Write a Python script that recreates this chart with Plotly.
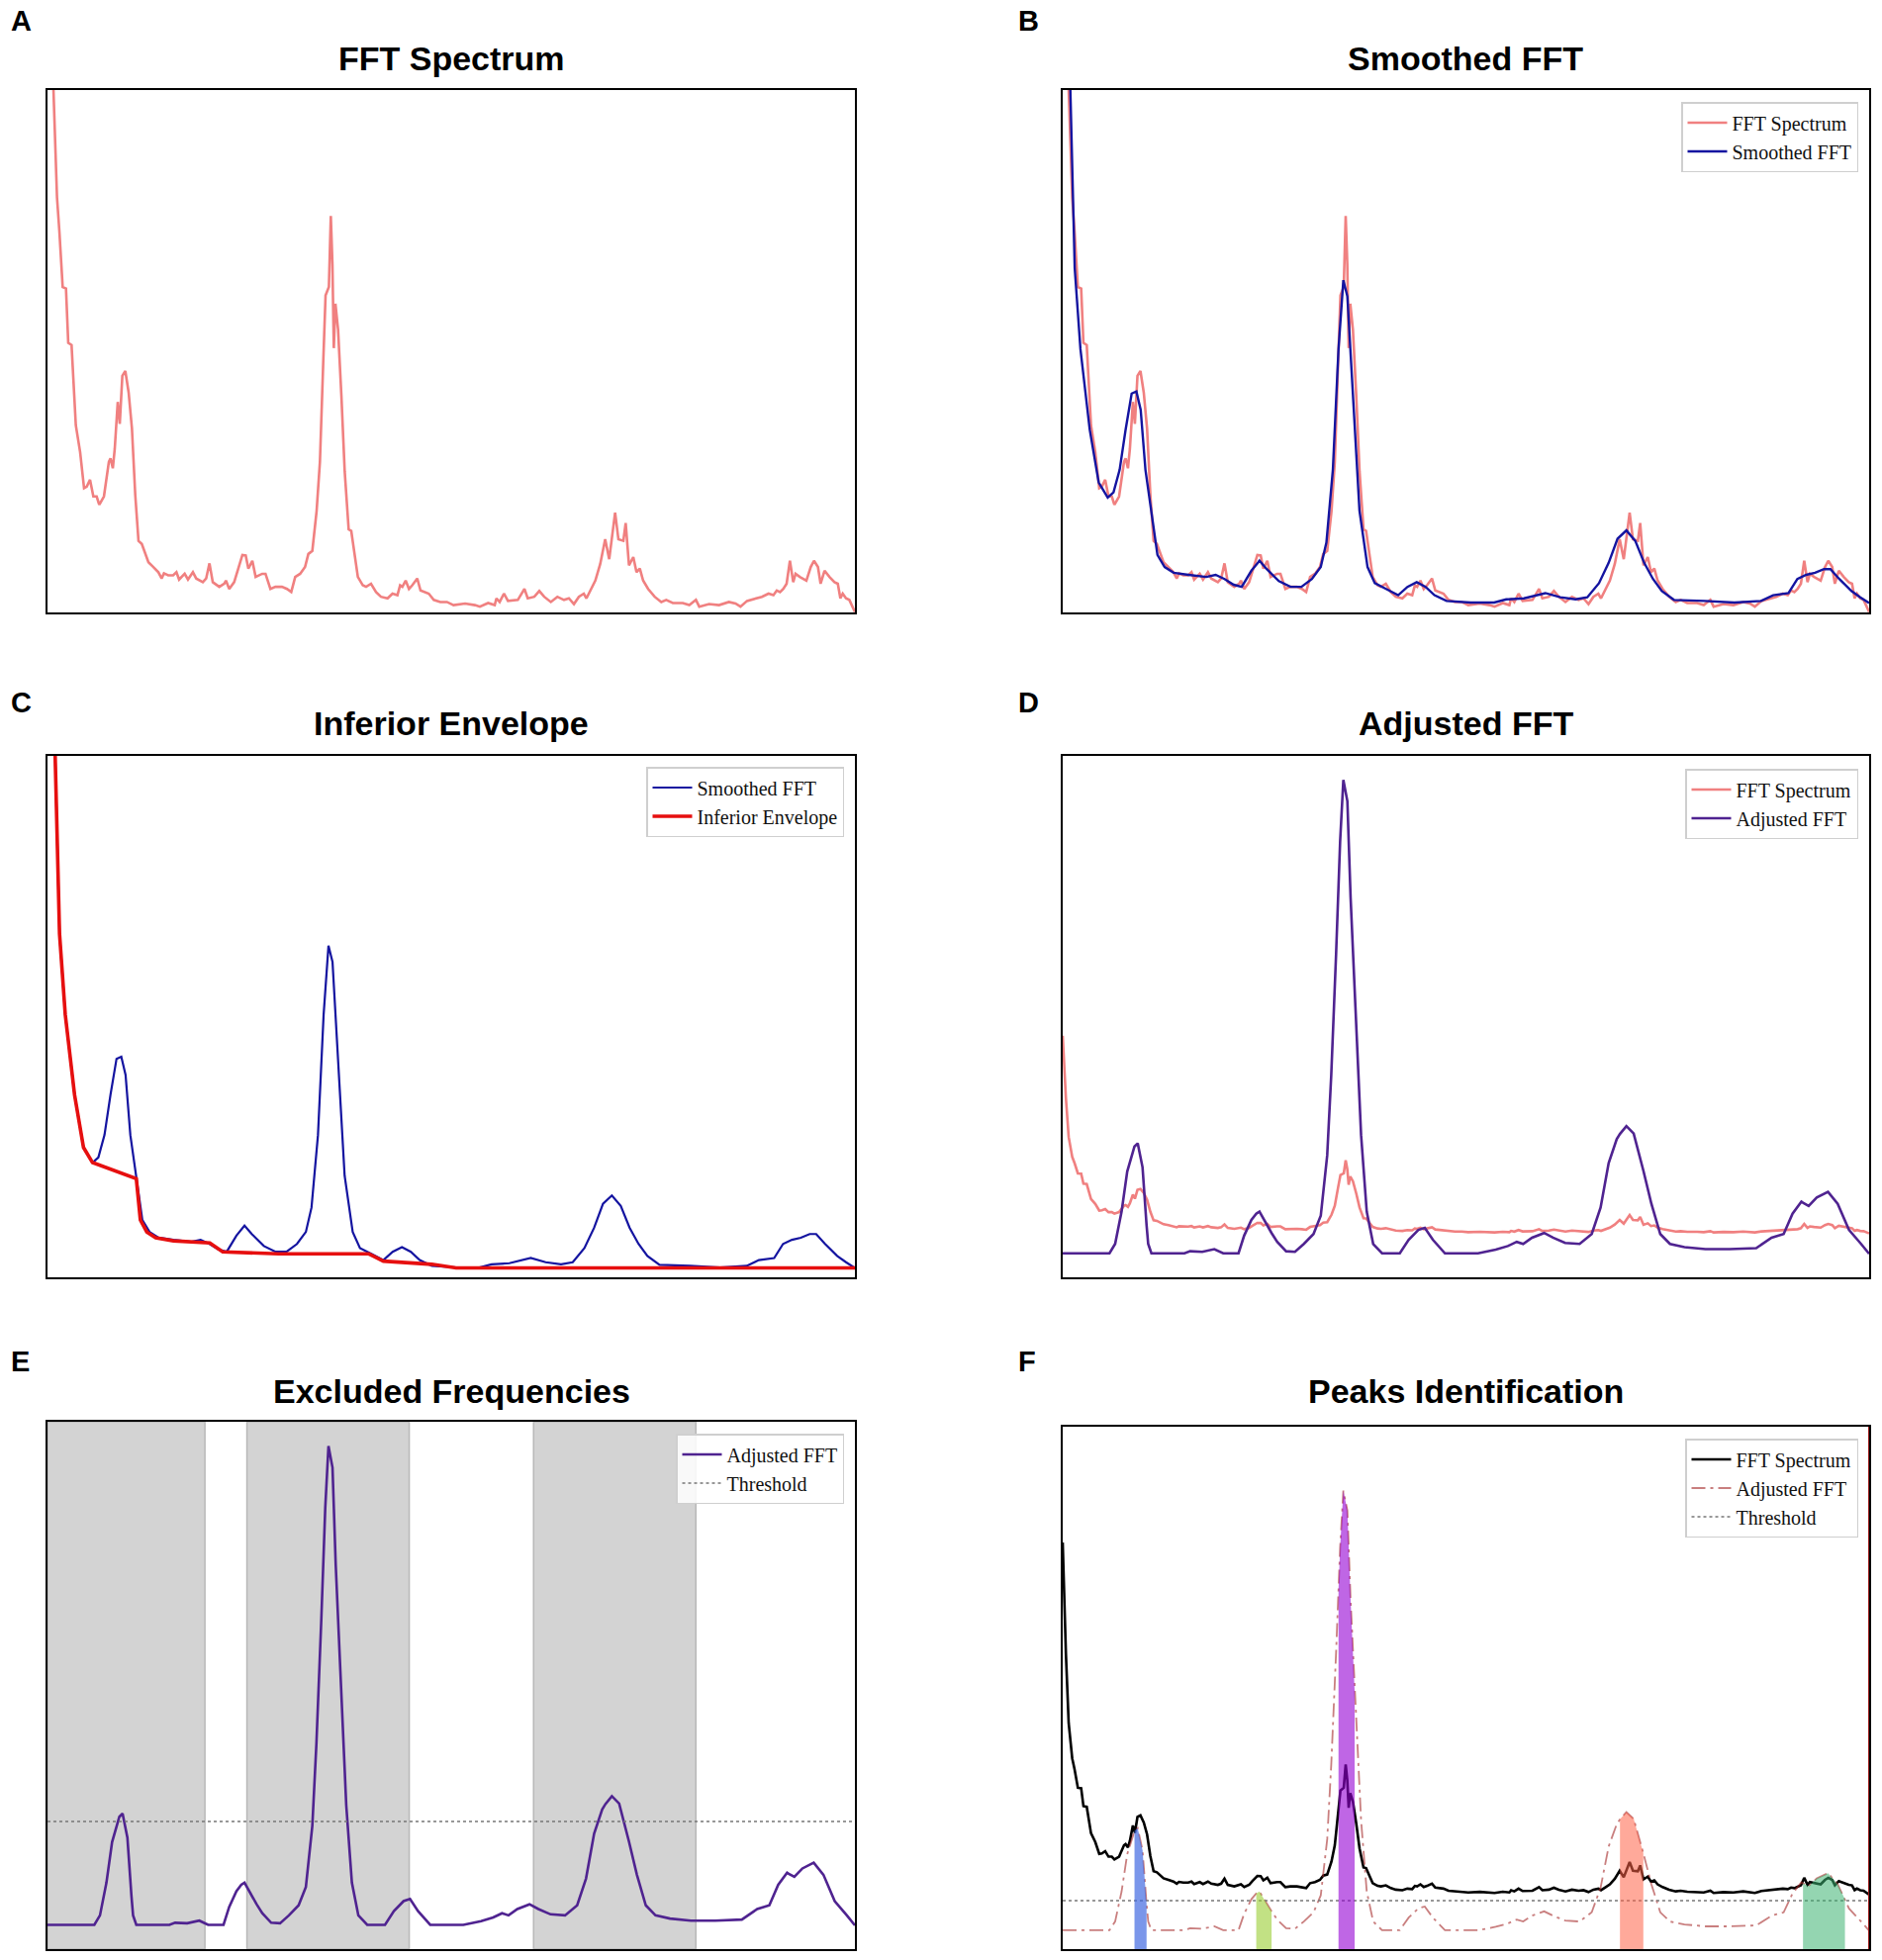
import plotly.graph_objects as go

# ---- data (x = frequency axis, 0..100 across the panel) ----
fft_x = [0, 0.4, 0.74, 1.18, 1.47, 1.88, 2.29, 2.57, 2.98, 3.51, 4.04, 4.53, 4.86, 5.27, 5.68,
         6.09, 6.41, 6.99, 7.60, 7.80, 8.09, 8.33, 8.70, 8.95, 9.27, 9.64, 10.05, 10.46, 10.87,
         11.27, 11.68, 12.09, 12.50, 13.11, 13.73, 14.14, 14.42, 14.95, 15.56, 15.97, 16.30,
         16.99, 17.40, 18.01, 18.42, 19.24, 19.65, 20.06, 20.47, 21.28, 21.90, 22.10, 22.51,
         23.12, 23.53, 24.14, 24.55, 24.88, 25.37, 25.78, 26.59, 27.00, 27.61, 28.23, 29.04,
         29.66, 30.19, 30.68, 31.29, 31.90, 32.31, 32.80, 33.33, 33.74, 34.15, 34.44, 34.85,
         35.09, 35.29, 35.46, 35.66, 35.99, 36.40, 36.81, 37.30, 37.62, 38.03, 38.44, 39.05,
         39.46, 40.07, 40.69, 41.30, 42.12, 42.73, 43.34, 43.67, 43.95, 44.36, 44.77, 45.18,
         45.79, 46.20, 46.61, 47.22, 47.84, 48.65, 49.47, 50.29, 51.72, 52.94, 53.55, 54.57,
         55.39, 55.60, 56.00, 56.53, 57.03, 58.25, 59.07, 59.48, 60.29, 60.91, 61.52, 62.34,
         63.15, 63.97, 64.58, 65.20, 65.81, 66.42, 66.75, 67.24, 67.85, 68.46, 69.07, 69.57,
         69.89, 70.30, 70.71, 71.32, 71.61, 72.02, 72.55, 72.95, 73.36, 73.77, 74.39, 75.20,
         76.02, 76.63, 77.45, 78.68, 79.49, 80.31, 80.72, 81.94, 83.17, 84.39, 85.21, 85.83,
         86.64, 87.66, 88.48, 89.30, 89.91, 90.32, 90.73, 91.13, 91.54, 91.95, 92.36, 92.65,
         93.18, 93.99, 94.53, 94.93, 95.42, 95.75, 96.24, 96.85, 97.47, 97.88, 98.20, 98.49,
         98.90, 99.31, 99.71, 100.0]
fft_y = [2.05, 1.40, 1.00, 0.794, 0.730, 0.623, 0.620, 0.516, 0.512, 0.358, 0.307, 0.238, 0.241,
         0.254, 0.222, 0.222, 0.206, 0.222, 0.288, 0.295, 0.276, 0.313, 0.403, 0.361, 0.453,
         0.462, 0.421, 0.352, 0.225, 0.137, 0.131, 0.112, 0.096, 0.087, 0.077, 0.065, 0.075,
         0.071, 0.071, 0.077, 0.063, 0.074, 0.063, 0.077, 0.065, 0.058, 0.065, 0.094, 0.058,
         0.049, 0.055, 0.061, 0.045, 0.058, 0.080, 0.110, 0.109, 0.084, 0.099, 0.068, 0.074,
         0.074, 0.045, 0.049, 0.049, 0.045, 0.039, 0.068, 0.074, 0.087, 0.112, 0.118, 0.194,
         0.288, 0.478, 0.607, 0.623, 0.759, 0.667, 0.506, 0.591, 0.541, 0.415, 0.270, 0.159,
         0.156, 0.112, 0.068, 0.052, 0.049, 0.055, 0.039, 0.030, 0.027, 0.036, 0.033, 0.052,
         0.049, 0.061, 0.045, 0.052, 0.065, 0.042, 0.039, 0.036, 0.024, 0.020, 0.020, 0.014,
         0.017, 0.014, 0.011, 0.018, 0.014, 0.027, 0.020, 0.036, 0.022, 0.024, 0.045, 0.027,
         0.030, 0.041, 0.030, 0.020, 0.030, 0.024, 0.027, 0.016, 0.030, 0.036, 0.027, 0.042,
         0.061, 0.093, 0.140, 0.102, 0.140, 0.191, 0.140, 0.137, 0.171, 0.090, 0.106, 0.077,
         0.084, 0.061, 0.045, 0.030, 0.020, 0.024, 0.018, 0.018, 0.014, 0.024, 0.011, 0.016,
         0.014, 0.020, 0.017, 0.011, 0.022, 0.027, 0.030, 0.036, 0.033, 0.042, 0.039, 0.045,
         0.055, 0.099, 0.058, 0.074, 0.068, 0.061, 0.087, 0.099, 0.087, 0.055, 0.080, 0.068,
         0.058, 0.055, 0.027, 0.036, 0.027, 0.024, 0.011, 0.001]

smooth_x = [0, 0.9, 1.49, 2.2, 3.35, 4.46, 5.58, 6.3, 7.06, 7.8, 8.55, 9.14, 9.67, 10.26, 11.0,
            11.75, 12.64, 13.75, 15.6, 17.8, 18.96, 20.07, 21.2, 22.2, 23.4, 24.4, 25.3, 26.8,
            28.25, 29.6, 30.9, 32.0, 32.7, 33.5, 34.2, 34.8, 35.3, 36.1, 36.8, 37.8, 38.7, 40.1,
            41.6, 42.75, 43.9, 45.0, 46.1, 47.6, 50.6, 53.5, 55.0, 57.2, 59.85, 61.7, 63.6, 65.05,
            66.5, 67.7, 68.8, 69.9, 71.0, 72.1, 73.2, 74.3, 75.8, 79.6, 83.3, 86.6, 88.1, 90.0,
            91.1, 92.2, 93.3, 94.4, 95.2, 96.3, 97.8, 98.9, 100]
smooth_y = [1.6, 1.0, 0.659, 0.504, 0.35, 0.249, 0.22, 0.23, 0.273, 0.35, 0.419, 0.423, 0.388,
            0.273, 0.188, 0.11, 0.087, 0.076, 0.072, 0.068, 0.072, 0.064, 0.053, 0.049, 0.08,
            0.099, 0.083, 0.06, 0.049, 0.049, 0.064, 0.087, 0.134, 0.273, 0.504, 0.636, 0.605,
            0.388, 0.195, 0.087, 0.056, 0.045, 0.033, 0.049, 0.058, 0.049, 0.033, 0.022, 0.019,
            0.019, 0.025, 0.027, 0.037, 0.029, 0.025, 0.029, 0.056, 0.095, 0.141, 0.157, 0.137,
            0.095, 0.064, 0.041, 0.024, 0.022, 0.019, 0.022, 0.033, 0.037, 0.064, 0.072, 0.076,
            0.083, 0.083, 0.064, 0.041, 0.029, 0.018]

env_x = [0, 0.9, 1.49, 2.2, 3.35, 4.46, 5.58, 11.0, 11.5, 12.3, 13.4, 15.6, 20.1, 21.7, 28.6,
         39.8, 41.6, 47.6, 50.6, 100]
env_y = [1.6, 1.0, 0.659, 0.504, 0.35, 0.249, 0.22, 0.189, 0.11, 0.087, 0.076, 0.07, 0.066,
         0.049, 0.045, 0.045, 0.031, 0.025, 0.018, 0.018]

adj_x = [0, 5.8, 6.5, 7.3, 8.0, 8.9, 9.3, 9.9, 10.4, 10.6, 11.0, 15.1, 15.8, 17.3, 18.8, 19.9,
         21.8, 22.5, 23.4, 24.0, 24.4, 25.5, 25.9, 26.6, 27.7, 28.8, 29.9, 31.1, 32.0, 32.8,
         33.3, 33.9, 34.2, 34.4, 34.8, 35.3, 35.7, 36.2, 37.0, 37.7, 38.5, 39.6, 41.8, 42.9,
         44.1, 44.9, 45.9, 47.4, 51.5, 53.7, 55.2, 56.3, 57.1, 58.2, 59.7, 60.8, 62.3, 64.1,
         65.6, 66.7, 67.7, 68.7, 69.1, 69.9, 70.8, 72.0, 73.0, 74.1, 75.3, 77.1, 79.7, 82.7,
         86.0, 87.9, 89.4, 90.5, 91.6, 91.8, 92.5, 93.5, 94.9, 96.1, 97.0, 97.5, 99.0, 100]
adj_y = [0.046, 0.046, 0.064, 0.126, 0.203, 0.251, 0.257, 0.211, 0.100, 0.064, 0.046, 0.046,
         0.050, 0.049, 0.054, 0.046, 0.046, 0.080, 0.110, 0.122, 0.126, 0.095, 0.085, 0.068,
         0.050, 0.049, 0.064, 0.083, 0.118, 0.234, 0.388, 0.620, 0.750, 0.836, 0.954, 0.913,
         0.728, 0.540, 0.273, 0.126, 0.064, 0.046, 0.046, 0.072, 0.091, 0.095, 0.072, 0.046,
         0.046, 0.053, 0.060, 0.068, 0.064, 0.076, 0.085, 0.076, 0.066, 0.064, 0.083, 0.134,
         0.219, 0.265, 0.275, 0.290, 0.276, 0.205, 0.141, 0.083, 0.064, 0.058, 0.054, 0.054,
         0.056, 0.076, 0.083, 0.122, 0.145, 0.143, 0.137, 0.153, 0.164, 0.141, 0.110, 0.091,
         0.064, 0.045]

excluded_bands = [(0, 19.5), (24.7, 44.8), (60.2, 80.3)]
threshold_e = 0.242
threshold_f = 0.107
peak_bands = [(8.9, 10.4), (24.0, 25.9), (34.2, 36.2), (69.1, 72.0), (91.8, 97.0)]

# ---- styling ----
peak_colors = ["rgba(65,105,225,0.7)", "rgba(154,205,50,0.6)", "rgba(148,0,211,0.6)",
               "rgba(255,99,71,0.55)", "rgba(60,179,113,0.55)"]
C_FFT = "#F08080"
C_SMOOTH = "#1414a0"
C_ENV = "#e60f0f"
C_ADJ = "#4f2390"

W, H = 1902, 1981
cols = [(48, 864), (1074, 1889)]
rows = [(91, 619), (764, 1291), (1437, 1970), (1442, 1970)]


def xd(c):
    return [cols[c][0] / W, cols[c][1] / W]


def yd(r):
    return [1 - rows[r][1] / H, 1 - rows[r][0] / H]


def axis(dom, rng, anchor):
    return dict(domain=dom, range=rng, anchor=anchor, showticklabels=False, ticks="",
                showgrid=False, zeroline=False, showline=True, linecolor="black",
                linewidth=2, mirror=True, fixedrange=True)


xr = [fft_x[0], fft_x[-1]]
fig = go.Figure()

# A
fig.add_trace(go.Scatter(x=fft_x, y=fft_y, mode="lines", line=dict(color=C_FFT, width=2.6),
                         showlegend=False, xaxis="x", yaxis="y"))
# B
fig.add_trace(go.Scatter(x=fft_x, y=fft_y, mode="lines", name="FFT Spectrum",
                         line=dict(color=C_FFT, width=2.6), legend="legend", xaxis="x2", yaxis="y2"))
fig.add_trace(go.Scatter(x=smooth_x, y=smooth_y, mode="lines", name="Smoothed FFT",
                         line=dict(color=C_SMOOTH, width=2.4), legend="legend", xaxis="x2", yaxis="y2"))
# C
fig.add_trace(go.Scatter(x=smooth_x, y=smooth_y, mode="lines", name="Smoothed FFT",
                         line=dict(color=C_SMOOTH, width=2.2), legend="legend2", xaxis="x3", yaxis="y3"))
fig.add_trace(go.Scatter(x=env_x, y=env_y, mode="lines", name="Inferior Envelope",
                         line=dict(color=C_ENV, width=3.6), legend="legend2", xaxis="x3", yaxis="y3"))
# D
fig.add_trace(go.Scatter(x=fft_x, y=fft_y, mode="lines", name="FFT Spectrum",
                         line=dict(color=C_FFT, width=2.6), legend="legend3", xaxis="x4", yaxis="y4"))
fig.add_trace(go.Scatter(x=adj_x, y=adj_y, mode="lines", name="Adjusted FFT",
                         line=dict(color=C_ADJ, width=2.6), legend="legend3", xaxis="x4", yaxis="y7"))
# E
fig.add_trace(go.Scatter(x=adj_x, y=adj_y, mode="lines", name="Adjusted FFT",
                         line=dict(color=C_ADJ, width=2.6), legend="legend4", xaxis="x5", yaxis="y5"))
fig.add_trace(go.Scatter(x=xr, y=[threshold_e, threshold_e], mode="lines", name="Threshold",
                         line=dict(color="#777777", width=1.5, dash="dot"),
                         legend="legend4", xaxis="x5", yaxis="y5"))
# F
fig.add_trace(go.Scatter(x=fft_x, y=fft_y, mode="lines", name="FFT Spectrum",
                         line=dict(color="black", width=2.6), legend="legend5", xaxis="x6", yaxis="y6"))
fig.add_trace(go.Scatter(x=adj_x, y=adj_y, mode="lines", name="Adjusted FFT",
                         line=dict(color="rgba(165,42,42,0.6)", width=1.8, dash="14px,5px,3px,5px"),
                         legend="legend5", xaxis="x6", yaxis="y8"))
fig.add_trace(go.Scatter(x=xr, y=[threshold_f, threshold_f], mode="lines", name="Threshold",
                         line=dict(color="#777777", width=1.5, dash="dot"),
                         legend="legend5", xaxis="x6", yaxis="y8"))
for (lo, hi), col in zip(peak_bands, peak_colors):
    sx = [x for x in adj_x if lo <= x <= hi]
    sy = [y for x, y in zip(adj_x, adj_y) if lo <= x <= hi]
    fig.add_trace(go.Scatter(x=sx, y=sy, mode="lines", fill="tozeroy", fillcolor=col,
                             line=dict(width=0, color=col), showlegend=False,
                             xaxis="x6", yaxis="y8"))

shapes = []
for lo, hi in excluded_bands:
    shapes.append(dict(type="rect", xref="x5", yref="y5 domain", x0=lo, x1=hi, y0=0, y1=1,
                       fillcolor="#d3d3d3", line=dict(color="#b8b8b8", width=1.5), layer="below"))
shapes.append(dict(type="line", xref="x6", yref="y6 domain", x0=xr[1], x1=xr[1], y0=0, y1=1,
                   line=dict(color="#9b1c1c", width=2)))

title_font = dict(family="Liberation Sans, Arial, sans-serif", size=34, color="black")
letter_font = dict(family="Liberation Sans, Arial, sans-serif", size=29, color="black")
annotations = []
titles = [("FFT Spectrum", 456, 59), ("Smoothed FFT", 1481, 59),
          ("Inferior Envelope", 456, 731), ("Adjusted FFT", 1481, 731),
          ("Excluded Frequencies", 456, 1406), ("Peaks Identification", 1481, 1406)]
for t, x, y in titles:
    annotations.append(dict(text="<b>" + t + "</b>", x=x / W, y=1 - y / H, xref="paper", yref="paper",
                            xanchor="center", yanchor="middle", showarrow=False, font=title_font))
letters = [("A", 9, 21), ("B", 1027, 21), ("C", 9, 710), ("D", 1027, 710),
           ("E", 9, 1376), ("F", 1027, 1376)]
for t, x, y in letters:
    annotations.append(dict(text="<b>" + t + "</b>", x=x / W, y=1 - y / H, xref="paper", yref="paper",
                            xanchor="left", yanchor="middle", showarrow=False, font=letter_font))


def legend_at(right, top):
    return dict(x=right / W, y=1 - top / H, xanchor="right", yanchor="top",
                font=dict(family="Liberation Serif, Times New Roman, serif", size=20, color="#111111"),
                bgcolor="rgba(255,255,255,0.85)", bordercolor="#cfcfcf", borderwidth=1.5,
                itemwidth=40)


fig.update_layout(
    width=W, height=H, margin=dict(l=0, r=0, t=0, b=0),
    paper_bgcolor="white", plot_bgcolor="white",
    xaxis=axis(xd(0), xr, "y"), yaxis=axis(yd(0), [0, 1], "x"),
    xaxis2=axis(xd(1), xr, "y2"), yaxis2=axis(yd(0), [0, 1], "x2"),
    xaxis3=axis(xd(0), xr, "y3"), yaxis3=axis(yd(1), [0, 1], "x3"),
    xaxis4=axis(xd(1), xr, "y4"), yaxis4=axis(yd(1), [-0.454, 4.95], "x4"),
    xaxis5=axis(xd(0), xr, "y5"), yaxis5=axis(yd(2), [0, 1], "x5"),
    xaxis6=axis(xd(1), xr, "y6"), yaxis6=axis(yd(3), [-0.316, 2.724], "x6"),
    yaxis7=dict(overlaying="y4", range=[0, 1], visible=False, anchor="x4", fixedrange=True),
    yaxis8=dict(overlaying="y6", range=[0.007, 1.086], visible=False, anchor="x6", fixedrange=True),
    legend=legend_at(1878, 103),
    legend2=legend_at(853, 775),
    legend3=legend_at(1878, 777),
    legend4=legend_at(853, 1449),
    legend5=legend_at(1878, 1454),
    shapes=shapes, annotations=annotations,
)

fig.write_html("out.html", config={"displayModeBar": False},
               post_script="document.body.style.margin='0';")
